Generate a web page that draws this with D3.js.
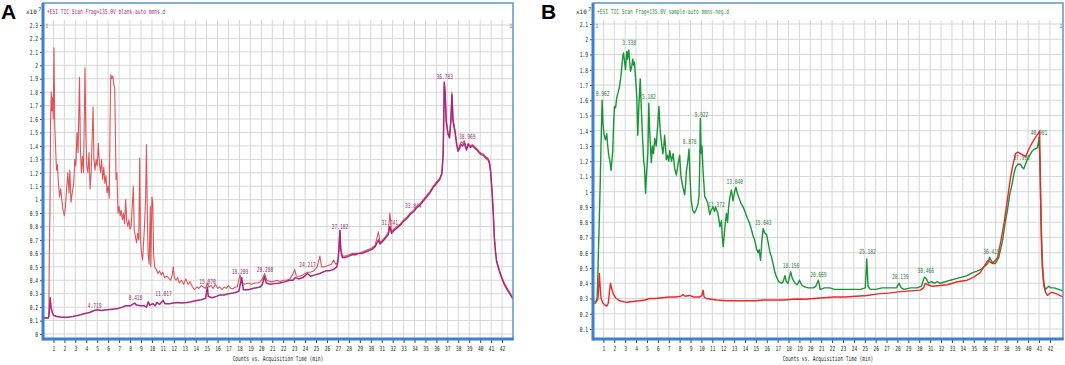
<!DOCTYPE html>
<html>
<head>
<meta charset="utf-8">
<script src="https://cdn.jsdelivr.net/npm/d3@7"></script>
<style>
  body { margin: 0; background: #fff; }
  svg { display: block; }
</style>
</head>
<body>
<div class="canvas"></div>
<script>
// ---- data (time in min, counts x10^7) ----

const xTicks = d3.range(1, 43);
const aTicksY = d3.range(0, 24).map(i => i / 10);
const bTicksY = d3.range(1, 22).map(i => i / 10);

// panel A, blank run: red and purple traces
const aRed = [[0,0.12],[0.5,0.12],[0.58,0.13],[0.62,0.58],[0.68,0.9],[0.74,1.6],[0.8,1.8],[0.86,1.66],[0.92,1.76],[0.98,1.6],[1.05,2.13],[1.12,1.55],[1.2,1.38],[1.28,1.22],[1.36,1.26],[1.46,1.12],[1.56,1.02],[1.66,1.08],[1.76,1.0],[1.88,0.92],[2.0,0.88],[2.1,0.95],[2.22,1.1],[2.32,1.2],[2.42,1.05],[2.5,1.22],[2.6,0.98],[2.72,1.05],[2.85,1.12],[2.95,1.3],[3.05,1.25],[3.15,1.5],[3.25,1.35],[3.38,1.91],[3.46,1.4],[3.55,1.2],[3.65,1.32],[3.75,1.2],[3.88,1.98],[3.96,1.5],[4.05,1.25],[4.15,1.2],[4.25,1.35],[4.35,1.08],[4.45,1.2],[4.55,1.5],[4.62,1.69],[4.7,1.3],[4.8,1.22],[4.9,1.3],[5.0,1.25],[5.1,1.42],[5.2,1.27],[5.3,1.2],[5.4,1.3],[5.5,1.15],[5.6,1.24],[5.7,1.12],[5.8,1.18],[5.9,1.05],[6.0,1.1],[6.1,1.01],[6.18,1.6],[6.24,1.93],[6.32,1.9],[6.42,1.92],[6.52,1.86],[6.6,1.83],[6.66,1.5],[6.72,1.15],[6.8,1.2],[6.9,0.9],[7.0,0.95],[7.1,0.88],[7.2,0.92],[7.3,0.85],[7.4,0.9],[7.5,0.82],[7.6,1.0],[7.7,0.84],[7.8,0.8],[7.9,0.85],[8.0,0.78],[8.1,0.8],[8.2,0.95],[8.3,1.1],[8.38,0.78],[8.5,0.72],[8.6,0.68],[8.7,0.75],[8.8,0.7],[8.88,1.31],[8.95,0.72],[9.05,0.6],[9.15,0.55],[9.25,0.7],[9.32,0.8],[9.42,1.0],[9.5,1.41],[9.58,0.9],[9.65,0.6],[9.75,0.52],[9.85,0.95],[9.9,0.5],[10.0,1.02],[10.08,0.98],[10.15,0.6],[10.25,0.5],[10.4,0.48],[10.55,0.45],[10.7,0.47],[10.85,0.44],[11.0,0.46],[11.15,0.42],[11.35,0.43],[11.5,0.42],[11.7,0.4],[11.85,0.44],[11.95,0.5],[12.05,0.42],[12.2,0.4],[12.35,0.42],[12.5,0.38],[12.7,0.4],[12.9,0.37],[13.1,0.41],[13.3,0.37],[13.5,0.39],[13.7,0.35],[13.9,0.33],[14.1,0.35],[14.3,0.34],[14.5,0.36],[14.7,0.35],[14.9,0.34],[15.07,0.38],[15.2,0.35],[15.4,0.36],[15.6,0.34],[15.8,0.37],[16.0,0.34],[16.2,0.35],[16.4,0.33],[16.6,0.35],[16.8,0.34],[17.0,0.36],[17.2,0.34],[17.4,0.335],[17.6,0.35],[17.8,0.35],[18.05,0.44],[18.2,0.38],[18.5,0.37],[18.8,0.38],[19.1,0.37],[19.4,0.38],[19.7,0.38],[19.9,0.39],[20.1,0.41],[20.3,0.45],[20.5,0.4],[20.8,0.39],[21.1,0.39],[21.4,0.4],[21.7,0.39],[22.0,0.4],[22.3,0.4],[22.6,0.41],[22.85,0.44],[23.05,0.48],[23.2,0.43],[23.5,0.43],[23.8,0.44],[24.0,0.45],[24.2,0.46],[24.5,0.46],[24.8,0.47],[25.1,0.5],[25.35,0.58],[25.5,0.5],[25.8,0.5],[26.1,0.51],[26.4,0.52],[26.6,0.55],[26.8,0.52],[27.0,0.53],[27.1,0.65],[27.18,0.77],[27.26,0.64],[27.4,0.58],[27.7,0.58],[28.0,0.59],[28.3,0.6],[28.6,0.6],[28.9,0.6],[29.2,0.61],[29.5,0.62],[29.8,0.63],[30.1,0.64],[30.4,0.66],[30.7,0.76],[30.85,0.68],[31.1,0.7],[31.4,0.73],[31.6,0.76],[31.75,0.9],[31.9,0.76],[32.1,0.78],[32.4,0.8],[32.7,0.82],[33.0,0.85],[33.3,0.87],[33.6,0.9],[33.9,0.92],[34.2,0.95],[34.5,0.97],[34.8,1.0],[35.1,1.03],[35.4,1.06],[35.7,1.1],[36.0,1.13],[36.3,1.16],[36.5,1.2],[36.62,1.35],[36.72,1.88],[36.8,1.8],[36.9,1.59],[37.05,1.5],[37.2,1.47],[37.32,1.6],[37.42,1.8],[37.52,1.6],[37.7,1.52],[37.85,1.42],[37.98,1.37],[38.1,1.4],[38.25,1.43],[38.4,1.42],[38.55,1.44],[38.75,1.38],[38.9,1.42],[39.1,1.4],[39.3,1.41],[39.5,1.395],[39.7,1.38],[39.9,1.36],[40.1,1.345],[40.3,1.34],[40.5,1.32],[40.7,1.31],[40.85,1.28],[40.95,1.22],[41.1,1.05],[41.2,0.9],[41.3,0.72],[41.4,0.62],[41.5,0.55],[41.7,0.49],[41.95,0.43],[42.2,0.38],[42.55,0.33],[43.0,0.27]];

const aPurple = [[0,0.12],[0.3,0.12],[0.55,0.12],[0.62,0.16],[0.7,0.27],[0.78,0.2],[0.9,0.16],[1.0,0.14],[1.3,0.13],[1.8,0.125],[2.2,0.125],[2.8,0.13],[3.3,0.14],[3.8,0.15],[4.3,0.16],[4.72,0.175],[5.0,0.18],[5.4,0.175],[5.9,0.18],[6.4,0.185],[6.9,0.19],[7.3,0.2],[7.6,0.21],[8.0,0.21],[8.42,0.23],[8.6,0.215],[9.0,0.21],[9.3,0.21],[9.5,0.2],[9.67,0.24],[9.8,0.215],[10.1,0.225],[10.3,0.21],[10.45,0.235],[10.7,0.22],[11.02,0.25],[11.2,0.225],[11.6,0.225],[11.95,0.23],[12.3,0.235],[12.7,0.23],[13.2,0.235],[13.6,0.24],[14.1,0.25],[14.5,0.255],[14.9,0.265],[15.07,0.35],[15.15,0.28],[15.5,0.27],[15.9,0.28],[16.2,0.29],[16.6,0.29],[17.0,0.3],[17.4,0.305],[17.7,0.31],[17.95,0.32],[18.21,0.42],[18.35,0.33],[18.8,0.33],[19.3,0.34],[19.9,0.35],[20.1,0.37],[20.28,0.43],[20.45,0.38],[20.8,0.37],[21.2,0.375],[21.7,0.38],[22.2,0.39],[22.6,0.4],[22.9,0.4],[23.1,0.42],[23.4,0.41],[23.8,0.42],[24.22,0.45],[24.5,0.43],[24.9,0.44],[25.35,0.45],[25.6,0.46],[25.9,0.47],[26.2,0.47],[26.6,0.48],[26.9,0.5],[27.05,0.58],[27.18,0.77],[27.26,0.62],[27.4,0.57],[27.7,0.57],[28.0,0.58],[28.3,0.59],[28.6,0.59],[28.9,0.6],[29.2,0.6],[29.5,0.61],[29.8,0.62],[30.1,0.63],[30.4,0.65],[30.7,0.7],[30.85,0.67],[31.1,0.69],[31.4,0.72],[31.6,0.74],[31.75,0.8],[31.9,0.75],[32.1,0.77],[32.4,0.79],[32.7,0.81],[33.0,0.84],[33.3,0.86],[33.6,0.89],[33.9,0.91],[34.2,0.94],[34.5,0.96],[34.8,0.99],[35.1,1.02],[35.4,1.05],[35.7,1.09],[36.0,1.12],[36.3,1.15],[36.5,1.19],[36.62,1.34],[36.72,1.87],[36.8,1.79],[36.9,1.58],[37.05,1.49],[37.2,1.46],[37.32,1.58],[37.42,1.78],[37.52,1.58],[37.7,1.5],[37.85,1.41],[37.98,1.36],[38.1,1.38],[38.25,1.41],[38.4,1.4],[38.55,1.42],[38.75,1.37],[38.9,1.41],[39.1,1.39],[39.3,1.4],[39.5,1.385],[39.7,1.37],[39.9,1.35],[40.1,1.335],[40.3,1.33],[40.5,1.31],[40.7,1.3],[40.85,1.27],[40.95,1.21],[41.1,1.04],[41.2,0.89],[41.3,0.71],[41.4,0.61],[41.5,0.54],[41.7,0.48],[41.95,0.42],[42.2,0.37],[42.55,0.32],[43.0,0.26]];

// panel B, sample run (green) and blank (red)
const bGreen = [[0,0.27],[0.3,0.27],[0.42,0.3],[0.48,0.42],[0.54,0.6],[0.6,0.75],[0.7,1.03],[0.78,1.3],[0.88,1.6],[0.96,1.45],[1.05,1.38],[1.19,1.34],[1.31,1.38],[1.4,1.3],[1.49,1.24],[1.6,1.2],[1.71,1.14],[1.8,1.22],[1.86,1.27],[1.94,1.45],[2.02,1.56],[2.12,1.55],[2.23,1.62],[2.35,1.65],[2.48,1.69],[2.6,1.75],[2.72,1.84],[2.8,1.9],[2.85,1.91],[2.95,1.85],[3.03,1.8],[3.1,1.88],[3.15,1.92],[3.22,1.87],[3.33,1.93],[3.42,1.85],[3.49,1.79],[3.6,1.82],[3.7,1.87],[3.78,1.83],[3.85,1.85],[3.95,1.75],[4.07,1.62],[4.16,1.37],[4.25,1.55],[4.38,1.74],[4.48,1.55],[4.6,1.35],[4.7,1.2],[4.78,1.16],[4.87,0.99],[4.95,1.1],[5.08,1.25],[5.17,1.58],[5.25,1.4],[5.4,1.19],[5.5,1.3],[5.6,1.25],[5.72,1.35],[5.85,1.3],[6.0,1.45],[6.1,1.56],[6.2,1.42],[6.3,1.34],[6.46,1.25],[6.55,1.3],[6.62,1.37],[6.7,1.3],[6.78,1.21],[6.9,1.24],[7.0,1.2],[7.1,1.27],[7.25,1.2],[7.4,1.25],[7.55,1.15],[7.7,1.11],[7.85,1.18],[8.0,1.24],[8.12,1.1],[8.3,1.03],[8.46,0.98],[8.55,1.05],[8.62,1.13],[8.75,1.2],[8.86,1.28],[8.95,1.1],[9.05,0.95],[9.2,0.88],[9.35,0.86],[9.5,0.88],[9.6,0.9],[9.69,0.92],[9.78,0.97],[9.85,1.2],[9.9,1.48],[9.97,1.25],[10.05,1.3],[10.15,1.14],[10.3,0.97],[10.45,0.95],[10.6,0.92],[10.77,0.85],[10.9,0.88],[11.07,0.9],[11.2,0.87],[11.3,0.9],[11.4,0.88],[11.5,0.86],[11.6,0.82],[11.7,0.77],[11.84,0.81],[11.92,0.7],[12.0,0.64],[12.1,0.72],[12.2,0.8],[12.3,0.86],[12.4,0.8],[12.5,0.9],[12.6,0.96],[12.75,1.01],[12.9,0.94],[13.05,1.0],[13.17,1.03],[13.3,0.99],[13.5,0.95],[13.65,0.92],[13.83,0.9],[14.0,0.87],[14.2,0.83],[14.44,0.79],[14.6,0.75],[14.75,0.71],[14.9,0.68],[15.05,0.63],[15.2,0.6],[15.3,0.62],[15.43,0.55],[15.55,0.68],[15.67,0.76],[15.8,0.73],[15.98,0.72],[16.15,0.66],[16.3,0.6],[16.45,0.57],[16.6,0.52],[16.75,0.47],[16.9,0.44],[17.1,0.41],[17.37,0.4],[17.5,0.41],[17.67,0.45],[17.8,0.41],[17.95,0.4],[18.2,0.475],[18.35,0.43],[18.6,0.4],[18.8,0.39],[19.0,0.42],[19.2,0.39],[19.36,0.38],[19.8,0.37],[20.28,0.37],[20.5,0.38],[20.74,0.42],[20.9,0.36],[21.3,0.37],[21.8,0.37],[22.2,0.36],[22.7,0.36],[23.3,0.36],[24.0,0.36],[24.6,0.36],[25.05,0.37],[25.18,0.56],[25.3,0.38],[25.5,0.36],[26.0,0.36],[26.6,0.37],[27.3,0.37],[27.9,0.37],[28.14,0.4],[28.35,0.37],[28.6,0.36],[29.2,0.37],[29.8,0.37],[30.2,0.38],[30.47,0.44],[30.65,0.43],[30.85,0.4],[31.1,0.41],[31.4,0.4],[31.64,0.41],[31.9,0.4],[32.4,0.41],[32.86,0.42],[33.4,0.43],[33.9,0.44],[34.4,0.45],[34.9,0.47],[35.3,0.48],[35.63,0.49],[36.0,0.51],[36.3,0.53],[36.45,0.57],[36.6,0.55],[36.8,0.53],[37.0,0.53],[37.3,0.57],[37.5,0.63],[37.65,0.68],[37.85,0.78],[38.1,0.88],[38.3,0.98],[38.55,1.06],[38.7,1.12],[38.85,1.16],[39.05,1.18],[39.3,1.18],[39.45,1.16],[39.6,1.15],[39.75,1.18],[39.92,1.21],[40.15,1.24],[40.4,1.27],[40.6,1.28],[40.86,1.29],[40.95,1.33],[41.0,1.36],[41.08,1.2],[41.15,0.95],[41.22,0.75],[41.3,0.55],[41.4,0.43],[41.5,0.38],[41.6,0.36],[41.75,0.37],[41.9,0.38],[42.1,0.37],[42.4,0.37],[42.8,0.36],[43.2,0.35]];

const bRed = [[0,0.28],[0.3,0.28],[0.48,0.29],[0.55,0.35],[0.63,0.465],[0.7,0.38],[0.79,0.3],[0.95,0.27],[1.1,0.26],[1.31,0.25],[1.45,0.27],[1.58,0.36],[1.65,0.4],[1.75,0.37],[1.9,0.33],[2.17,0.3],[2.5,0.285],[3.1,0.275],[3.7,0.28],[4.3,0.285],[4.8,0.29],[5.24,0.3],[5.8,0.3],[6.4,0.305],[7.08,0.31],[7.6,0.31],[8.1,0.315],[8.3,0.325],[8.5,0.315],[8.9,0.32],[9.3,0.31],[9.84,0.31],[10.05,0.32],[10.15,0.355],[10.25,0.31],[10.46,0.3],[10.9,0.295],[11.4,0.29],[12.3,0.285],[13.2,0.285],[14.2,0.285],[15.0,0.285],[15.67,0.29],[16.5,0.29],[17.5,0.29],[18.75,0.297],[19.5,0.295],[20.3,0.3],[21.2,0.305],[22.2,0.31],[23.2,0.31],[24.2,0.315],[25.2,0.32],[26.2,0.33],[27.2,0.335],[28.26,0.345],[29.2,0.35],[30.1,0.355],[30.4,0.37],[30.56,0.4],[30.8,0.39],[31.2,0.38],[31.9,0.385],[32.56,0.39],[33.5,0.41],[34.4,0.42],[35.0,0.44],[35.6,0.47],[36.3,0.55],[36.7,0.53],[37.0,0.55],[37.2,0.57],[37.5,0.68],[37.8,0.8],[38.1,0.95],[38.35,1.08],[38.55,1.16],[38.85,1.25],[39.05,1.26],[39.3,1.25],[39.55,1.24],[39.77,1.23],[40.0,1.27],[40.2,1.3],[40.45,1.33],[40.7,1.36],[40.9,1.38],[41.05,1.4],[41.12,1.1],[41.2,0.71],[41.3,0.5],[41.45,0.38],[41.6,0.34],[41.77,0.32],[42.0,0.335],[42.2,0.34],[42.6,0.33],[43.2,0.31]];

// peak annotations: text, time, height of label baseline
const aPeakLabels = [["4.719",4.76,0.19],["8.418",8.5,0.25],["11.017",11.06,0.28],["15.070",15.08,0.37],["18.209",18.05,0.45],["20.280",20.33,0.46],["24.217",24.21,0.495],["27.182",27.18,0.78],["31.741",31.74,0.815],["33.844",33.89,0.94],["36.783",36.77,1.9],["38.969",38.82,1.455]];
const bPeakLabels = [["0.962",0.94,1.625],["3.338",3.37,1.964],["5.182",5.18,1.607],["8.878",8.92,1.316],["9.922",10.0,1.487],["11.372",11.38,0.897],["13.040",13.07,1.048],["15.643",15.67,0.779],["18.156",18.22,0.497],["20.669",20.74,0.444],["25.182",25.25,0.589],["28.139",28.26,0.431],["30.466",30.59,0.464],["36.419",36.64,0.589],["37.998",39.4,1.211],["40.981",41.0,1.369]];

// ---- drawing ----
const width = 1065, height = 365;
const mono = "'DejaVu Sans Mono', monospace";
const charW = 2.75;
const frameBlue = "#3d7fd2";

const svg = d3.select(".canvas")
  .append("svg")
    .attr("width", width)
    .attr("height", height);

function squeeze(sel) {
  sel.attr("textLength", function() { return this.textContent.length * charW; })
     .attr("lengthAdjust", "spacingAndGlyphs");
}

function drawPanel(p) {
  const x = d3.scaleLinear().domain(p.xDomain).range([p.left - 0.5, p.right]);
  const y = d3.scaleLinear().domain(p.yDomain).range(p.yRange);
  const g = svg.append("g");

  // grid
  g.append("g").selectAll("line").data(p.yTicks).join("line")
      .attr("x1", p.left).attr("x2", p.right)
      .attr("y1", d => y(d)).attr("y2", d => y(d))
      .attr("stroke", "#d6d6d6").attr("stroke-width", 1);
  g.append("g").selectAll("line").data(xTicks).join("line")
      .attr("x1", d => x(d)).attr("x2", d => x(d))
      .attr("y1", p.top + 17).attr("y2", p.bottom)
      .attr("stroke", "#d6d6d6").attr("stroke-width", 1);

  // header + exponent
  g.append("text")
      .attr("x", p.left + 4).attr("y", p.top + 10.5)
      .attr("fill", p.headerColor)
      .style("font-family", mono).style("font-size", "7px")
      .text(p.header).call(squeeze);
  const ex = g.append("text")
      .attr("x", p.left - 17).attr("y", p.top + 11)
      .attr("fill", "#222")
      .style("font-family", mono).style("font-size", "6px");
  ex.append("tspan").text("x10");
  ex.append("tspan").attr("dy", -3).attr("dx", 1.5).style("font-size", "5px").text("7");

  // little "1" markers in the corners
  g.selectAll("text.mark").data([p.left + 2, p.right - 4]).join("text")
      .attr("class", "mark")
      .attr("x", d => d).attr("y", p.top + 25)
      .attr("fill", "#888")
      .style("font-family", mono).style("font-size", "6px")
      .text("1");

  // peak labels
  g.append("g").selectAll("text").data(p.labels).join("text")
      .attr("x", d => x(d[1])).attr("y", d => y(d[2]))
      .attr("text-anchor", "middle")
      .attr("fill", p.labelColor)
      .style("font-family", mono).style("font-size", "7px")
      .text(d => d[0]).call(squeeze);

  // traces
  const clipId = "clip" + p.id;
  svg.append("clipPath").attr("id", clipId)
    .append("rect")
      .attr("x", p.left).attr("y", p.top)
      .attr("width", p.right - p.left).attr("height", p.bottom - p.top);

  const line = d3.line().x(d => x(d[0])).y(d => y(d[1]));
  p.series.forEach(s => {
    g.append("path")
        .datum(s.data)
        .attr("clip-path", `url(#${clipId})`)
        .attr("fill", "none")
        .attr("stroke", s.color)
        .attr("stroke-width", s.width)
        .attr("stroke-linejoin", "round")
        .attr("d", line);
  });

  // frame
  g.append("rect")
      .attr("x", p.left).attr("y", p.top)
      .attr("width", p.right - p.left).attr("height", p.bottom - p.top)
      .attr("fill", "none").attr("stroke", "#5b95d6").attr("stroke-width", 1.5);

  // axes
  const yAxis = g.append("g")
      .attr("transform", `translate(${p.left},0)`)
      .call(d3.axisLeft(y).tickValues(p.yTicks).tickSize(3).tickPadding(2)
        .tickFormat(d => String(Math.round(d * 10) / 10)));
  const xAxis = g.append("g")
      .attr("transform", `translate(0,${p.bottom})`)
      .call(d3.axisBottom(x).tickValues(xTicks).tickSize(4).tickPadding(3)
        .tickFormat(d => String(d)));
  [yAxis, xAxis].forEach(a => {
    a.select(".domain").remove();
    a.selectAll(".tick line").attr("stroke", "#444");
    a.selectAll(".tick text")
        .attr("fill", "#222")
        .style("font-family", mono).style("font-size", "7px")
        .call(squeeze);
  });

  g.append("line")
      .attr("x1", p.left).attr("x2", p.left)
      .attr("y1", p.top).attr("y2", p.bottom + 1.5)
      .attr("stroke", frameBlue).attr("stroke-width", 3);
  g.append("line")
      .attr("x1", p.left).attr("x2", p.right + 0.75)
      .attr("y1", p.bottom).attr("y2", p.bottom)
      .attr("stroke", frameBlue).attr("stroke-width", 3);

  // axis title
  g.append("text")
      .attr("x", (p.left + p.right) / 2).attr("y", p.bottom + 22)
      .attr("text-anchor", "middle")
      .attr("fill", "#222")
      .style("font-family", mono).style("font-size", "7px")
      .text("Counts vs. Acquisition Time (min)").call(squeeze);

  // panel letter
  svg.append("text")
      .attr("x", p.letterX).attr("y", 19)
      .style("font-family", "'Liberation Sans', Arial, sans-serif")
      .style("font-size", "21px").style("font-weight", "bold")
      .text(p.letter);
}

drawPanel({
  id: "A", letter: "A", letterX: 1,
  left: 43, right: 513, top: 3, bottom: 339,
  xDomain: [0, 43], yDomain: [0, 2.3], yRange: [334, 25], yTicks: aTicksY,
  header: "+ESI TIC Scan Frag=135.0V blank-auto mmns.d",
  headerColor: "#a0307a", labelColor: "#8e2f72",
  labels: aPeakLabels,
  series: [
    { data: aRed, color: "#dc5558", width: 1.1 },
    { data: aPurple, color: "#a8287f", width: 1.5 }
  ]
});

drawPanel({
  id: "B", letter: "B", letterX: 541,
  left: 593, right: 1063, top: 3, bottom: 339,
  xDomain: [0, 43.2], yDomain: [0.1, 2.1], yRange: [329, 24], yTicks: bTicksY,
  header: "+ESI TIC Scan Frag=135.0V sample-auto mmns-neg.d",
  headerColor: "#2c8a3c", labelColor: "#2c7d3a",
  labels: bPeakLabels,
  series: [
    { data: bGreen, color: "#189536", width: 1.4 },
    { data: bRed, color: "#f22626", width: 1.4 }
  ]
});
</script>
</body>
</html>
